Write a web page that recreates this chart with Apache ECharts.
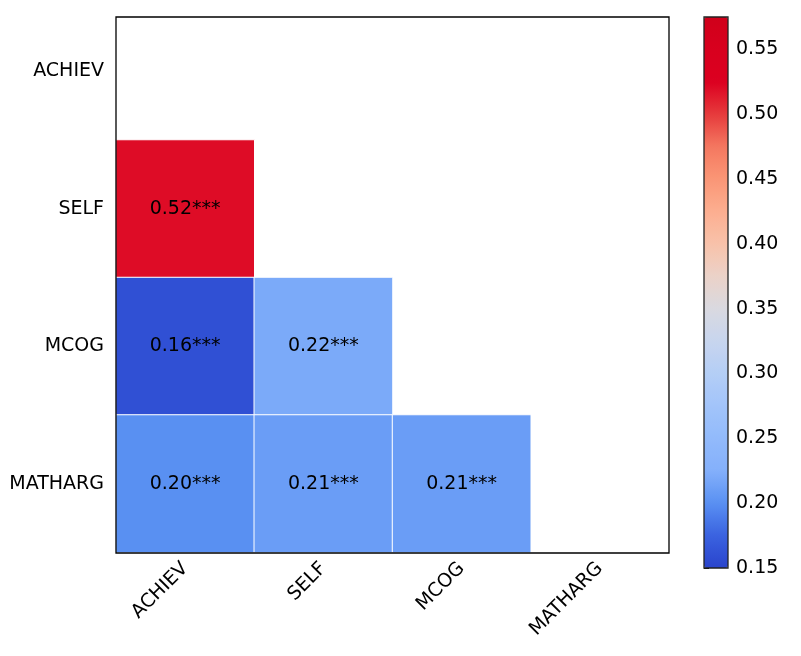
<!DOCTYPE html>
<html>
<head>
<meta charset="utf-8">
<script src="https://cdn.jsdelivr.net/npm/echarts@6/dist/echarts.min.js"></script>
<style>
  html, body { margin: 0; padding: 0; background: #fff; }
  #chart { width: 801px; height: 656px; }
</style>
</head>
<body>
<div id="chart"></div>
<script>
// variables, top row first
var vars = ['ACHIEV', 'SELF', 'MCOG', 'MATHARG'];
// lower triangle, one array per row (columns from ACHIEV)
var rowSELF = [0.52];
var rowMCOG = [0.16, 0.22];
var rowMATHARG = [0.20, 0.21, 0.21];
var sig = '***';
// colour bar
var cbMin = 0.15;
var cbMax = 0.575;
var cbTicks = [0.15, 0.20, 0.25, 0.30, 0.35, 0.40, 0.45, 0.50, 0.55];
var cbColors = ['#2a44cc', '#3a62e0', '#5990f2', '#84b0fb', '#92bafb', '#a2c4fa',
    '#b4cef6', '#c8d5ee', '#d9d9e0', '#ebd2c8', '#f8c2aa', '#fcae90',
    '#fa9676', '#f47860', '#e63a3c', '#dc0020', '#d8001e', '#d0001a'];

var cells = [];
var rows = [[], rowSELF, rowMCOG, rowMATHARG];
for (var r = 0; r < rows.length; r++) {
    for (var c = 0; c < rows[r].length; c++) {
        cells.push([c, r, rows[r][c]]);
    }
}

var font = 'DejaVu Sans';
var fs = 19;

var option = {
    animation: false,
    grid: [
        // frame of the matrix
        { left: 116, top: 17, width: 553, height: 536, show: true, borderColor: '#000', borderWidth: 1.3, z: 10 },
        // cells (top row is partly cut by the frame)
        { left: 116, top: 2.5, width: 553, height: 550 },
        // colour bar frame + ticks
        { left: 704, top: 17, width: 24, height: 551, show: true, borderColor: '#222', borderWidth: 1.3, z: 10 }
    ],
    xAxis: [
        { gridIndex: 0, type: 'value', show: false },
        {
            gridIndex: 1, type: 'category', data: vars,
            axisLine: { show: false },
            axisTick: { alignWithLabel: true, length: 6, lineStyle: { color: '#000' } },
            axisLabel: { rotate: 45, margin: 13, fontFamily: font, fontSize: fs, color: '#000' },
            splitLine: { show: false }
        },
        { gridIndex: 2, type: 'value', show: false }
    ],
    yAxis: [
        { gridIndex: 0, type: 'value', show: false },
        {
            gridIndex: 1, type: 'category', data: vars, inverse: true,
            axisLine: { show: false },
            axisTick: { alignWithLabel: true, length: 6, lineStyle: { color: '#000' } },
            axisLabel: { margin: 12, fontFamily: font, fontSize: fs, color: '#000' },
            splitLine: { show: false }
        },
        {
            gridIndex: 2, type: 'value', position: 'right', min: cbMin, max: cbMax,
            axisLine: { show: false },
            axisTick: { show: true, length: 5, lineStyle: { color: '#000' }, customValues: cbTicks },
            axisLabel: {
                margin: 8, fontFamily: font, fontSize: fs, color: '#000', customValues: cbTicks,
                formatter: function (v) { return v.toFixed(2); }
            },
            splitLine: { show: false }
        }
    ],
    visualMap: {
        type: 'continuous',
        seriesIndex: 0,
        min: cbMin,
        max: cbMax,
        calculable: false,
        hoverLink: false,
        showLabel: false,
        left: 704,
        top: 17,
        padding: 0,
        itemWidth: 24,
        itemHeight: 551,
        inRange: { color: cbColors }
    },
    series: [{
        type: 'heatmap',
        xAxisIndex: 1,
        yAxisIndex: 1,
        data: cells,
        itemStyle: { borderColor: '#fff', borderWidth: 1 },
        label: {
            show: true,
            fontFamily: font,
            fontSize: fs,
            color: '#000',
            formatter: function (p) { return p.value[2].toFixed(2) + sig; }
        }
    }]
};

var myChart = echarts.init(document.getElementById('chart'));
myChart.setOption(option);
</script>
</body>
</html>
